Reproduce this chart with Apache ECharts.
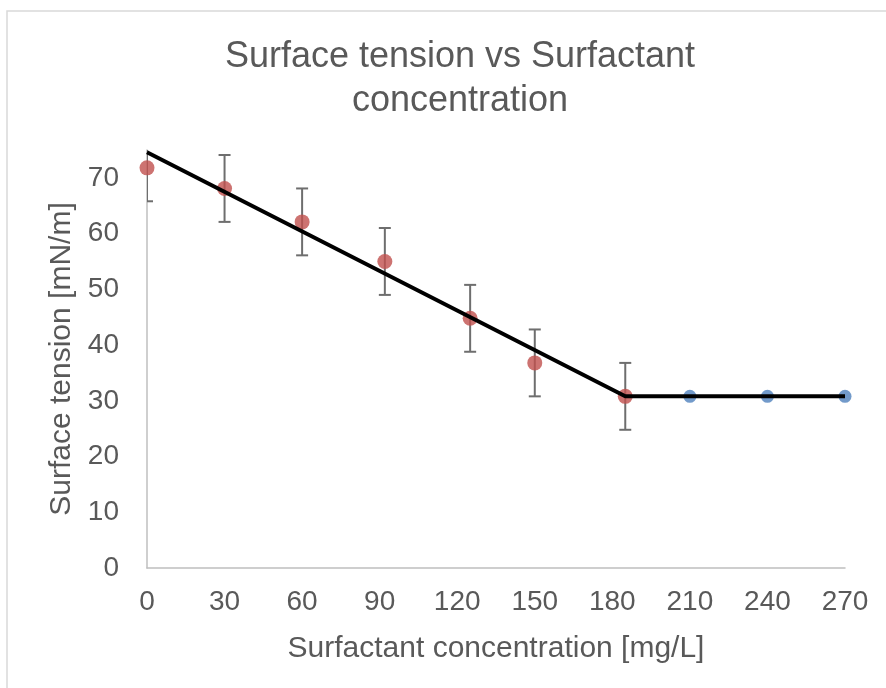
<!DOCTYPE html>
<html>
<head>
<meta charset="utf-8">
<script src="https://cdn.jsdelivr.net/npm/echarts@6/dist/echarts.min.js"></script>
<style>
  html, body { margin: 0; padding: 0; background: #fff; }
  #chart { width: 886px; height: 688px; }
</style>
</head>
<body>
<div id="chart"></div>
<script>
// measured points, below the CMC
const redX = [0, 30, 60, 92, 125, 150, 185]
const redY = [71.8, 68.1, 62.1, 55.0, 44.8, 36.8, 30.8]
const redErr = [6, 6, 6, 6, 6, 6, 6]
// points above the CMC
const blueX = [210, 240, 270]
const blueY = [30.8, 30.8, 30.8]
// fitted line (two segments)
const fitX = [0, 185, 270]
const fitY = [74.6, 30.8, 30.8]
const xTicks = [0, 30, 60, 90, 120, 150, 180, 210, 240, 270]
const yTicks = [0, 10, 20, 30, 40, 50, 60, 70]

const textColor = '#595959'
const font = 'Liberation Sans'

const chart = echarts.init(document.getElementById('chart'))
chart.setOption({
  animation: false,
  backgroundColor: '#fff',
  graphic: [{
    type: 'rect',
    shape: { x: 7, y: 11, width: 900, height: 700 },
    style: { fill: 'none', stroke: '#d9d9d9', lineWidth: 1.5 },
    silent: true
  }],
  title: {
    text: 'Surface tension vs Surfactant\nconcentration',
    left: 455,
    textAlign: 'center',
    top: 30,
    textStyle: {
      fontFamily: font,
      fontSize: 36,
      fontWeight: 'normal',
      color: textColor,
      lineHeight: 44
    }
  },
  grid: { left: 147, right: 41, top: 150, bottom: 120 },
  xAxis: {
    type: 'value',
    min: 0,
    max: 270,
    interval: 30,
    name: 'Surfactant concentration [mg/L]',
    nameLocation: 'middle',
    nameGap: 66,
    nameTextStyle: { fontFamily: font, fontSize: 30, color: textColor },
    axisLine: { show: true, lineStyle: { color: '#bfbfbf', width: 1.5 } },
    axisTick: { show: false },
    splitLine: { show: false },
    axisLabel: {
      fontFamily: font, fontSize: 28, color: textColor, margin: 20,
      formatter: v => xTicks.includes(v) ? String(v) : ''
    }
  },
  yAxis: {
    type: 'value',
    min: 0,
    max: 75,
    interval: 10,
    name: 'Surface tension [mN/m]',
    nameLocation: 'middle',
    nameGap: 69,
    nameTextStyle: { fontFamily: font, fontSize: 30, color: textColor },
    axisLine: { show: true, lineStyle: { color: '#bfbfbf', width: 1.5 } },
    axisTick: { show: false },
    splitLine: { show: false },
    axisLabel: {
      fontFamily: font, fontSize: 28, color: textColor, margin: 28,
      formatter: v => yTicks.includes(v) ? String(v) : ''
    }
  },
  series: [
    {
      type: 'custom',
      name: 'error',
      z: 2,
      clip: true,
      data: redX.map((x, i) => [x, redY[i] - redErr[i], redY[i] + redErr[i]]),
      renderItem: (params, api) => {
        const lo = api.coord([api.value(0), api.value(1)])
        const hi = api.coord([api.value(0), api.value(2)])
        const top = params.coordSys.y
        const hw = 6
        const style = { stroke: '#6e6e6e', lineWidth: 2 }
        const children = [{
          type: 'line',
          shape: { x1: lo[0], y1: lo[1], x2: hi[0], y2: Math.max(hi[1], top) },
          style
        }, {
          type: 'line',
          shape: { x1: lo[0] - hw, y1: lo[1], x2: lo[0] + hw, y2: lo[1] },
          style
        }]
        if (hi[1] >= top) {
          children.push({
            type: 'line',
            shape: { x1: hi[0] - hw, y1: hi[1], x2: hi[0] + hw, y2: hi[1] },
            style
          })
        }
        return { type: 'group', children }
      }
    },
    {
      type: 'scatter',
      z: 3,
      symbolSize: 15,
      itemStyle: { color: '#c0504d' },
      data: redX.map((x, i) => [x, redY[i]])
    },
    {
      type: 'scatter',
      z: 3,
      symbolSize: 13,
      itemStyle: { color: '#4f81bd' },
      data: blueX.map((x, i) => [x, blueY[i]])
    },
    {
      type: 'line',
      z: 4,
      showSymbol: false,
      symbol: 'none',
      lineStyle: { color: '#000', width: 4 },
      data: fitX.map((x, i) => [x, fitY[i]])
    }
  ]
})
</script>
</body>
</html>
